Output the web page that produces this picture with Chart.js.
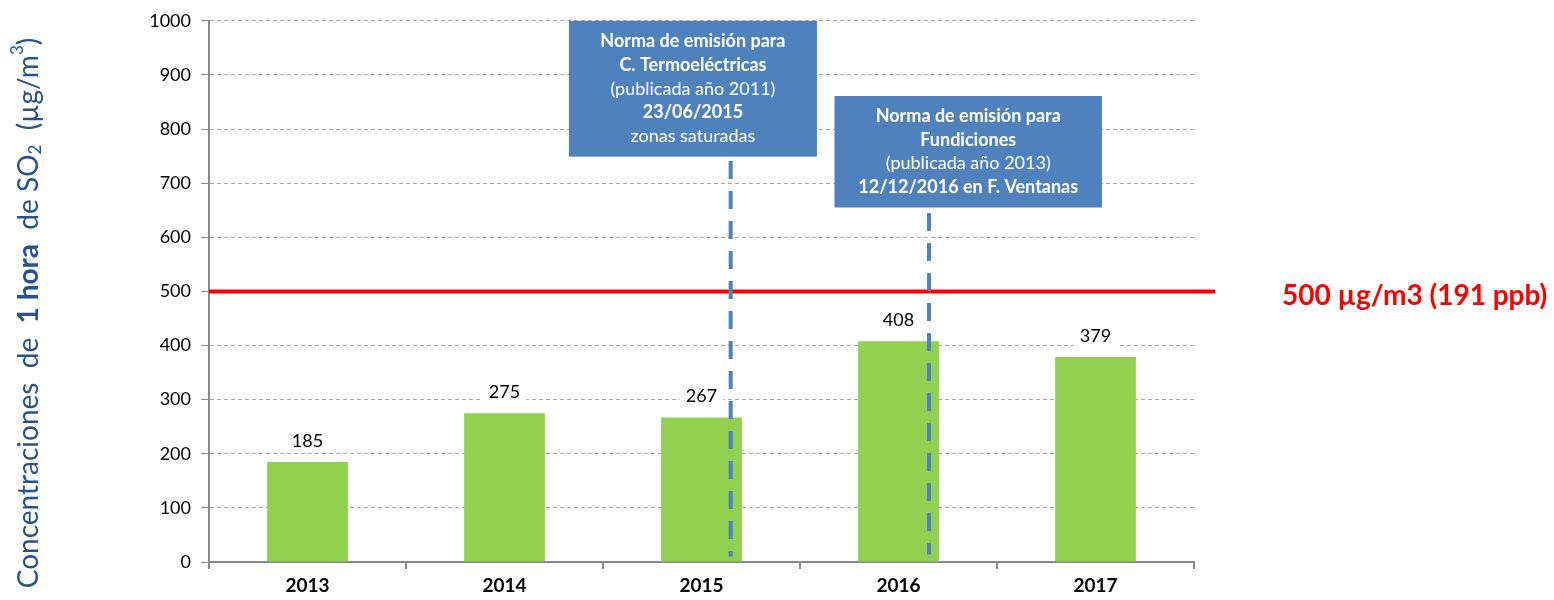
<!DOCTYPE html>
<html lang="es">
<head>
<meta charset="utf-8">
<title>Concentraciones de 1 hora de SO2</title>
<script src="https://cdn.jsdelivr.net/npm/chart.js@4.4.1/dist/chart.umd.min.js"></script>
<style>
  html, body { margin: 0; padding: 0; background: #fff; }
</style>
</head>
<body>
<canvas id="graficoSO2" width="1554" height="600"></canvas>
<script>
/* ── DATOS ── */
var anios = ['2013', '2014', '2015', '2016', '2017'];
var concentraciones = [185, 275, 267, 408, 379];
var marcasEjeY = [0, 100, 200, 300, 400, 500, 600, 700, 800, 900, 1000];

/* Límite de la norma (línea roja) */
var limiteNorma = 500;
var etiquetaLimite = '500 µg/m3 (191 ppb)';

/* Fechas de entrada en vigencia, como posición decimal sobre el eje de años */
var fechaNormaTermo = 2.148;
var fechaNormaFundiciones = 3.155;

/* Textos de los recuadros azules */
var textoNormaTermo = ['Norma de emisión para', 'C. Termoeléctricas', '(publicada año 2011)', '23/06/2015', 'zonas saturadas'];
var textoNormaFundiciones = ['Norma de emisión para', 'Fundiciones', '(publicada año 2013)', '12/12/2016 en F. Ventanas'];

var FUENTE = 'Lato, "Open Sans", sans-serif';
var AZUL = '#4f81bd';

/* ── PLUGIN: título del eje Y con negrita, subíndice y superíndice ── */
var pluginTituloY = {
    id: 'tituloY',
    afterDraw: function (chart) {
        var ctx = chart.ctx;
        var partes = [
            { t: 'Concentraciones  de  ', f: '28px ' + FUENTE, dy: 0 },
            { t: '1 hora', f: 'bold 28px ' + FUENTE, dy: 0 },
            { t: '  de SO', f: '28px ' + FUENTE, dy: 0 },
            { t: '2', f: '17px ' + FUENTE, dy: 7 },
            { t: '  (µg/m', f: '28px ' + FUENTE, dy: 0 },
            { t: '3', f: '17px ' + FUENTE, dy: -11 },
            { t: ')', f: '28px ' + FUENTE, dy: 0 }
        ];
        var total = 0;
        partes.forEach(function (p) { ctx.font = p.f; p.w = ctx.measureText(p.t).width; total += p.w; });
        ctx.save();
        ctx.translate(29, 313);
        ctx.rotate(-Math.PI / 2);
        ctx.fillStyle = '#25538c';
        ctx.textBaseline = 'middle';
        ctx.textAlign = 'left';
        var x = -total / 2;
        partes.forEach(function (p) {
            ctx.font = p.f;
            ctx.fillText(p.t, x, p.dy);
            x += p.w;
        });
        ctx.restore();
    }
};

/* ── PLUGIN: etiquetas de valores, línea límite y recuadros de normas ── */
function dibujarRecuadro(ctx, xs, ys, x0, x1, y0, y1, lineas, negritas) {
    var left = xs.getPixelForValue(x0), right = xs.getPixelForValue(x1);
    var top = ys.getPixelForValue(y0), bottom = ys.getPixelForValue(y1);
    ctx.fillStyle = AZUL;
    ctx.fillRect(left, top, right - left, bottom - top);
    ctx.fillStyle = '#fff';
    ctx.textAlign = 'center';
    ctx.textBaseline = 'middle';
    var paso = 23.7;
    var yc = (top + bottom) / 2 - paso * (lineas.length - 1) / 2;
    lineas.forEach(function (l, i) {
        ctx.font = (negritas[i] ? 'bold ' : '') + '18px ' + FUENTE;
        ctx.fillText(l, (left + right) / 2, yc + i * paso);
    });
}

function dibujarLineaFecha(ctx, xs, ys, pos, desde, hasta) {
    var px = xs.getPixelForValue(pos);
    ctx.save();
    ctx.strokeStyle = AZUL;
    ctx.lineWidth = 4;
    ctx.setLineDash([18, 12]);
    ctx.beginPath();
    ctx.moveTo(px, ys.getPixelForValue(desde));
    ctx.lineTo(px, ys.getPixelForValue(hasta));
    ctx.stroke();
    ctx.restore();
}

var pluginAnotaciones = {
    id: 'anotaciones',
    afterDatasetsDraw: function (chart) {
        var ctx = chart.ctx, xs = chart.scales.x, ys = chart.scales.y, area = chart.chartArea;
        ctx.save();

        /* Valores sobre las barras, con fondo blanco */
        ctx.font = '18px ' + FUENTE;
        ctx.textAlign = 'center';
        ctx.textBaseline = 'alphabetic';
        chart.getDatasetMeta(0).data.forEach(function (bar, i) {
            var txt = String(concentraciones[i]);
            var w = ctx.measureText(txt).width;
            ctx.fillStyle = '#fff';
            ctx.fillRect(bar.x - w / 2 - 6, bar.y - 32, w + 12, 22);
            ctx.fillStyle = '#000';
            ctx.fillText(txt, bar.x, bar.y - 15);
        });

        /* Línea roja del límite */
        var yLim = ys.getPixelForValue(limiteNorma);
        ctx.strokeStyle = '#ff0000';
        ctx.lineWidth = 4;
        ctx.beginPath();
        ctx.moveTo(area.left, yLim);
        ctx.lineTo(area.right + 21, yLim);
        ctx.stroke();
        ctx.fillStyle = '#ff0000';
        ctx.font = 'bold 28px ' + FUENTE;
        ctx.textAlign = 'left';
        ctx.textBaseline = 'middle';
        ctx.fillText(etiquetaLimite, area.right + 88, yLim + 5);

        /* Líneas punteadas de las fechas */
        dibujarLineaFecha(ctx, xs, ys, fechaNormaTermo, 741, 10);
        dibujarLineaFecha(ctx, xs, ys, fechaNormaFundiciones, 645, 14);

        /* Recuadros */
        dibujarRecuadro(ctx, xs, ys, 1.327, 2.586, 1000, 749, textoNormaTermo, [true, true, false, true, false]);
        dibujarRecuadro(ctx, xs, ys, 2.675, 4.033, 861, 655, textoNormaFundiciones, [true, true, false, true]);

        ctx.restore();
    }
};

/* ── GRÁFICO ── */
new Chart(document.getElementById('graficoSO2'), {
    type: 'bar',
    data: {
        labels: anios,
        datasets: [{
            label: 'SO2',
            data: concentraciones,
            backgroundColor: '#92d050',
            barPercentage: 0.41,
            categoryPercentage: 1
        }]
    },
    options: {
        responsive: false,
        animation: false,
        devicePixelRatio: 1,
        layout: { padding: { top: 20, right: 360, bottom: 0, left: 0 } },
        plugins: {
            legend: { display: false },
            tooltip: { enabled: false }
        },
        scales: {
            x: {
                grid: { offset: true, drawOnChartArea: false, drawTicks: true, tickLength: 7, tickColor: '#888', lineWidth: 2 },
                border: { color: '#888', width: 2 },
                ticks: { color: '#000', font: { family: FUENTE, size: 19, weight: 'bold' }, padding: 5 },
                afterFit: function (s) { s.height = 38; }
            },
            y: {
                min: 0,
                max: 1000,
                afterBuildTicks: function (s) { s.ticks = marcasEjeY.map(function (v) { return { value: v }; }); },
                grid: { color: '#a6a6a6', tickColor: '#888', tickLength: 8, lineWidth: 1 },
                border: { color: '#888', width: 2, dash: [4, 3] },
                ticks: {
                    color: '#000',
                    font: { family: FUENTE, size: 18 },
                    padding: 10,
                    callback: function (v) { return String(v); }
                },
                afterFit: function (s) { s.width = 209; }
            }
        }
    },
    plugins: [pluginTituloY, pluginAnotaciones]
});
</script>
</body>
</html>
